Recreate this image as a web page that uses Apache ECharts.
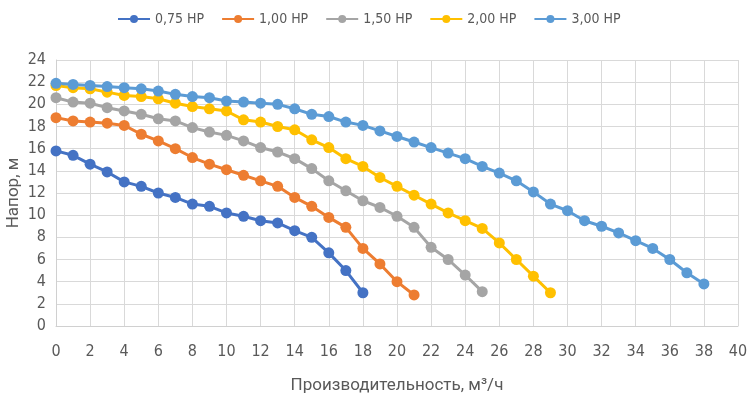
<!DOCTYPE html>
<html>
<head>
<meta charset="utf-8">
<script src="https://cdn.jsdelivr.net/npm/echarts@6/dist/echarts.min.js"></script>
<style>
    html, body { margin: 0; padding: 0; background: #fff; }
    #box { width: 753px; height: 399px; }
</style>
</head>
<body>
<div id="box"></div>
<script>
// данные: подача (м3/ч) от 0 с шагом 1, напор (м)
var names = ['0,75 HP', '1,00 HP', '1,50 HP', '2,00 HP', '3,00 HP'];
var colors = ['#4472C4', '#ED7D31', '#A5A5A5', '#FFC000', '#5B9BD5'];

var hp075 = [15.8, 15.4, 14.6, 13.9, 13.0, 12.6, 12.0, 11.6, 11.0, 10.8, 10.2, 9.9, 9.5, 9.3, 8.6, 8.0, 6.6, 5.0, 3.0];
var hp100 = [18.8, 18.5, 18.4, 18.3, 18.1, 17.3, 16.7, 16.0, 15.2, 14.6, 14.1, 13.6, 13.1, 12.6, 11.6, 10.8, 9.8, 8.9, 7.0, 5.6, 4.0, 2.8];
var hp150 = [20.6, 20.2, 20.1, 19.7, 19.4, 19.1, 18.7, 18.5, 17.9, 17.5, 17.2, 16.7, 16.1, 15.7, 15.1, 14.2, 13.1, 12.2, 11.3, 10.7, 9.9, 8.9, 7.1, 6.0, 4.6, 3.1];
var hp200 = [21.7, 21.5, 21.4, 21.1, 20.8, 20.7, 20.5, 20.1, 19.8, 19.6, 19.4, 18.6, 18.4, 18.0, 17.7, 16.8, 16.1, 15.1, 14.4, 13.4, 12.6, 11.8, 11.0, 10.2, 9.5, 8.8, 7.5, 6.0, 4.5, 3.0];
var hp300 = [21.9, 21.8, 21.7, 21.6, 21.5, 21.4, 21.2, 20.9, 20.7, 20.6, 20.3, 20.2, 20.1, 20.0, 19.6, 19.1, 18.9, 18.4, 18.1, 17.6, 17.1, 16.6, 16.1, 15.6, 15.1, 14.4, 13.8, 13.1, 12.1, 11.0, 10.4, 9.5, 9.0, 8.4, 7.7, 7.0, 6.0, 4.8, 3.8];
var heads = [hp075, hp100, hp150, hp200, hp300];

window.onload = function () {
    var charts = echarts.init(document.getElementById('box'));
    var narrow = "'Liberation Sans Narrow', 'DejaVu Sans Condensed', sans-serif";
    var plain = "Roboto, 'Liberation Sans', sans-serif";
    var txt = '#595959';

    var series = [];
    for (var i = 0; i < heads.length; i++) {
        var pts = [];
        for (var q = 0; q < heads[i].length; q++) {
            pts.push([q, heads[i][q]]);
        }
        series.push({
            name: names[i],
            type: 'line',
            data: pts,
            symbol: 'circle',
            symbolSize: 11,
            itemStyle: { color: colors[i] },
            lineStyle: { color: colors[i], width: 3 },
            animation: false
        });
    }

    var option = {
        color: colors,
        legend: {
            top: 7,
            left: 112,
            itemWidth: 32,
            itemHeight: 10,
            itemGap: 17,
            textStyle: { color: txt, fontSize: 14, fontFamily: narrow },
            data: names
        },
        grid: { left: 56, right: 15, top: 60, bottom: 73, outerBoundsMode: 'none' },
        xAxis: {
            type: 'value',
            min: 0, max: 40, interval: 2,
            name: 'Производительность, м³/ч',
            nameLocation: 'middle',
            nameGap: 51,
            nameMoveOverlap: false,
            nameTextStyle: { color: txt, fontSize: 17, fontFamily: plain },
            axisLine: { lineStyle: { color: '#d0d0d0' } },
            axisTick: { show: false },
            axisLabel: { color: txt, fontSize: 16, fontFamily: narrow, margin: 18 },
            splitLine: { lineStyle: { color: '#d9d9d9' } }
        },
        yAxis: {
            type: 'value',
            min: 0, max: 24, interval: 2,
            name: 'Напор, м',
            nameLocation: 'middle',
            nameGap: 34,
            nameMoveOverlap: false,
            nameTextStyle: { color: txt, fontSize: 17, fontFamily: plain },
            axisLine: { show: true, lineStyle: { color: '#d0d0d0' } },
            axisTick: { show: false },
            axisLabel: { color: txt, fontSize: 16, fontFamily: narrow, margin: 10 },
            splitLine: { lineStyle: { color: '#d9d9d9' } }
        },
        series: series
    };

    charts.setOption(option);
};
</script>
</body>
</html>
